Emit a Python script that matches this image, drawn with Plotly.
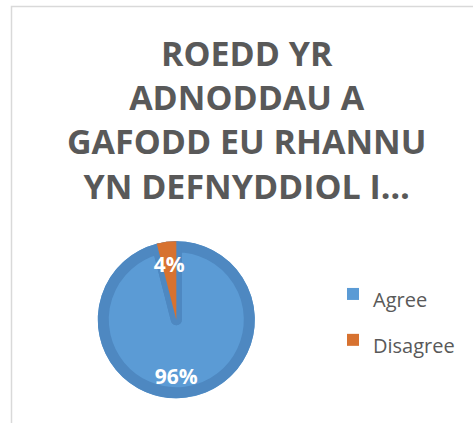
import plotly.graph_objects as go

# ---- data ----
categories = ["Agree", "Disagree"]
values = [96, 4]
title_lines = ["ROEDD YR", "ADNODDAU A", "GAFODD EU RHANNU", "YN DEFNYDDIOL I…"]

# ---- styling ----
W, H = 473, 423
LIGHT = "#5b9bd5"
DARK = "#4e88c1"
ORANGE = "#d77230"
CLEAR = "rgba(0,0,0,0)"
TXT = "#595959"

cx, cy = 176.3, 319.7   # pie centre in px (from top-left)
R = 78.5                # outer radius px
RING = 11               # dark bevel width px


def dom(r):
    return dict(
        x=[(cx - r) / W, (cx + r) / W],
        y=[(H - cy - r) / H, (H - cy + r) / H],
    )


legend_labels = [f"<span style='font-size:20px'>{c}</span>" for c in categories]

common = dict(values=values, labels=legend_labels, sort=False,
              direction="clockwise", hoverinfo="skip")
label_font = dict(family="Open Sans", size=21, color="white", weight="bold")
pct = "%{percent:.0%}"

fig = go.Figure()
# base pie (legend source)
fig.add_trace(go.Pie(**common, domain=dom(R),
                     marker=dict(colors=[LIGHT, ORANGE], line=dict(width=0)),
                     textinfo="none", showlegend=True))
# dark bevel ring + separators
fig.add_trace(go.Pie(**common, domain=dom(R - RING / 2),
                     marker=dict(colors=[CLEAR, CLEAR],
                                 line=dict(color=DARK, width=RING)),
                     textinfo="none", showlegend=False))
# orange slice on top
fig.add_trace(go.Pie(**common, domain=dom(R),
                     marker=dict(colors=[CLEAR, ORANGE], line=dict(width=0)),
                     textinfo="none", showlegend=False))
# data label for the small slice
fig.add_trace(go.Pie(**common, domain=dom(63),
                     marker=dict(colors=[CLEAR, CLEAR], line=dict(width=0)),
                     texttemplate=["", pct], textposition="inside",
                     insidetextorientation="horizontal",
                     textfont=label_font, showlegend=False))
# data label for the large slice (thin ring so the label sits near its rim)
fig.add_trace(go.Pie(**common, domain=dom(62), hole=0.82,
                     marker=dict(colors=[CLEAR, CLEAR], line=dict(width=0)),
                     texttemplate=[pct, ""], textposition="inside",
                     insidetextorientation="horizontal",
                     textfont=label_font, showlegend=False))

fig.update_layout(
    width=W, height=H,
    margin=dict(l=0, r=0, t=0, b=0),
    paper_bgcolor="white",
    plot_bgcolor="white",
    font=dict(family="Open Sans", color=TXT),
    annotations=[dict(
        text="<br>".join(title_lines),
        x=246.5 / W, xanchor="center", xref="paper",
        y=1 - 29 / H, yanchor="top", yref="paper",
        showarrow=False, borderpad=0, align="center",
        font=dict(family="Open Sans", size=34, color=TXT, weight="bold"),
    )],
    legend=dict(
        x=333 / W, xanchor="left",
        y=1 - 266 / H, yanchor="top",
        font=dict(family="Open Sans", size=33, color=TXT),
        bgcolor=CLEAR,
        traceorder="normal",
    ),
    uniformtext=dict(minsize=21, mode="show"),
    shapes=[dict(type="rect", xref="paper", yref="paper",
                 x0=11.5 / W, x1=1.05, y0=-0.05, y1=1 - 6.5 / H,
                 line=dict(color="#d9d9d9", width=1.5))],
)

fig.write_html("out.html", config={"displayModeBar": False},
               post_script="document.body.style.margin='0';")
